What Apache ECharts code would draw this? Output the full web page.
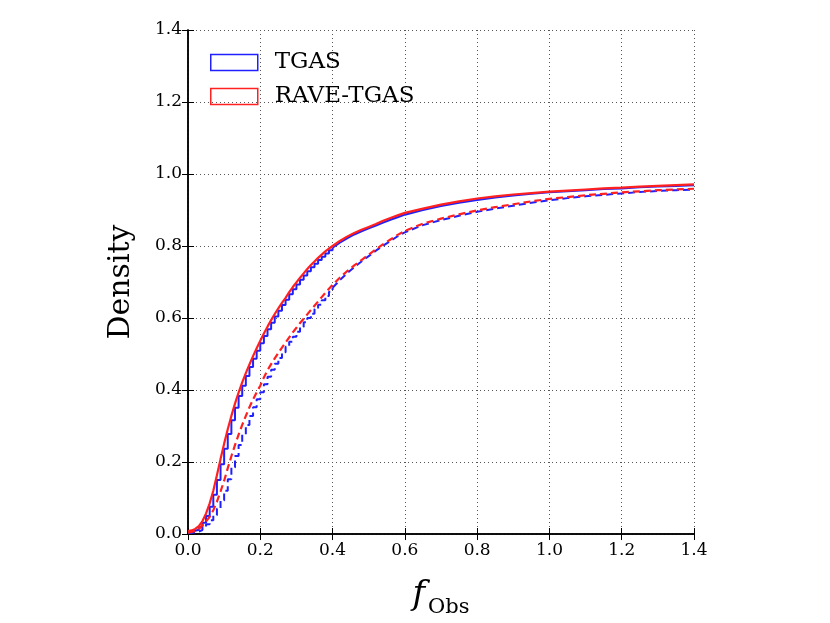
<!DOCTYPE html>
<html><head><meta charset="utf-8">
<script src="https://cdn.jsdelivr.net/npm/echarts@6/dist/echarts.min.js"></script>
<style>html,body{margin:0;padding:0;background:#fff}#c{width:830px;height:623px}</style>
</head><body><div id="c"></div>
<script>
const xs = [0,0.01,0.02,0.03,0.04,0.05,0.06,0.07,0.08,0.09,0.10,0.11,0.12,0.13,0.14,0.15,0.16,0.17,0.18,0.19,0.20,
  0.21,0.22,0.23,0.24,0.25,0.26,0.27,0.28,0.29,0.30,0.31,0.32,0.33,0.34,0.35,0.36,0.37,0.38,0.39,0.40,
  0.42,0.44,0.46,0.48,0.50,0.52,0.54,0.56,0.58,0.60,
  0.65,0.70,0.75,0.80,0.85,0.90,0.95,1.00,1.05,1.10,1.15,1.20,1.25,1.30,1.35,1.40];
const tgasSolid = [0.007,0.009,0.012,0.019,0.031,0.050,0.076,0.109,0.150,0.194,0.237,0.278,0.316,0.351,0.383,0.412,0.439,0.464,0.487,0.509,0.530,
  0.550,0.569,0.587,0.604,0.620,0.636,0.651,0.666,0.680,0.693,0.706,0.718,0.730,0.741,0.751,0.761,0.770,0.779,0.788,0.795,
  0.809,0.821,0.832,0.841,0.849,0.857,0.865,0.873,0.880,0.887,
  0.900,0.911,0.920,0.928,0.935,0.940,0.945,0.949,0.952,0.955,0.958,0.960,0.963,0.965,0.967,0.969];
const raveSolid = [0.008,0.010,0.014,0.022,0.036,0.057,0.085,0.120,0.163,0.208,0.251,0.291,0.328,0.362,0.393,0.421,0.447,0.471,0.494,0.516,0.537,
  0.557,0.576,0.594,0.611,0.627,0.642,0.656,0.672,0.686,0.699,0.712,0.724,0.736,0.747,0.757,0.767,0.776,0.785,0.793,0.800,
  0.814,0.826,0.836,0.845,0.853,0.861,0.870,0.878,0.885,0.892,
  0.904,0.915,0.924,0.932,0.938,0.943,0.947,0.951,0.954,0.957,0.960,0.962,0.965,0.967,0.969,0.971];
const tgasDashed = [0.003,0.005,0.007,0.011,0.018,0.027,0.038,0.052,0.070,0.093,0.120,0.152,0.185,0.217,0.247,0.276,0.303,0.328,0.352,0.374,0.394,
  0.416,0.437,0.456,0.473,0.489,0.505,0.520,0.534,0.548,0.562,0.575,0.588,0.600,0.612,0.625,0.637,0.649,0.661,0.673,0.684,
  0.705,0.724,0.741,0.757,0.772,0.787,0.801,0.814,0.827,0.838,
  0.858,0.872,0.884,0.895,0.904,0.912,0.920,0.927,0.933,0.938,0.942,0.946,0.950,0.953,0.955,0.957];
const raveDashed = [0.004,0.006,0.009,0.014,0.024,0.035,0.048,0.066,0.090,0.118,0.148,0.183,0.216,0.247,0.276,0.303,0.328,0.352,0.374,0.394,0.412,
  0.435,0.455,0.472,0.488,0.503,0.518,0.532,0.546,0.560,0.573,0.586,0.598,0.610,0.622,0.634,0.646,0.658,0.670,0.681,0.692,
  0.712,0.730,0.746,0.761,0.776,0.791,0.805,0.818,0.831,0.842,
  0.862,0.876,0.888,0.899,0.908,0.916,0.924,0.931,0.936,0.941,0.945,0.949,0.952,0.955,0.957,0.959];
const legendNames = ['TGAS','RAVE-TGAS'];
const BLUE = '#2020ff', RED = '#ff2020';
const STEP_END = 41; // fine 0.01 bins (x <= 0.40) are drawn as visible steps
const pairs = v => xs.map((x,i)=>[x, v[i]]);
const chart = echarts.init(document.getElementById('c'), null, {renderer:'canvas'});
const serif = 'DejaVu Serif';
const gridLine = {show:true, lineStyle:{color:'#555', type:[1,3], width:1}};
const frame = {show:true, lineStyle:{color:'#000', width:1.5}};
const tick = {show:true, inside:true, length:6, lineStyle:{color:'#000', width:1}};
const blueSeries = (vals, dashed) => {
  const p = pairs(vals);
  const ls = {color:BLUE, width:2, type: dashed ? [7,4] : 'solid'};
  return [
    {name:legendNames[0], type:'line', step:'end', data:p.slice(0, STEP_END), symbol:'none', lineStyle:ls, itemStyle:{color:BLUE}},
    {name:legendNames[0], type:'line', data:p.slice(STEP_END-1), symbol:'none', lineStyle:ls, itemStyle:{color:BLUE}}
  ];
};
chart.setOption({
  animation:false,
  backgroundColor:'#fff',
  grid:{left:188, right:136, top:30, bottom:89, containLabel:false, outerBoundsMode:'none'},
  legend:{
    left:205, top:46, orient:'vertical', itemWidth:47, itemHeight:16, itemGap:11,
    textStyle:{fontFamily:serif, fontSize:23, color:'#000', padding:[0,0,0,12]},
    data:[
      {name:legendNames[0], icon:'rect', itemStyle:{color:'rgba(0,0,0,0)', borderColor:BLUE, borderWidth:1.5}},
      {name:legendNames[1], icon:'rect', itemStyle:{color:'rgba(0,0,0,0)', borderColor:RED, borderWidth:1.5}}
    ]
  },
  xAxis:[{
    type:'value', min:0, max:1.4, interval:0.2,
    axisLine:frame, axisTick:tick, splitLine:gridLine,
    axisLabel:{formatter:v=>v.toFixed(1), fontFamily:serif, fontSize:17, color:'#000', margin:8},
    name:'{f|f}{s|Obs}', nameLocation:'middle', nameGap:44,
    nameTextStyle:{rich:{
      f:{fontFamily:serif, fontStyle:'italic', fontSize:34, color:'#000', verticalAlign:'bottom'},
      s:{fontFamily:serif, fontSize:21, color:'#000', verticalAlign:'bottom', padding:[0,0,-6,3]}
    }}
  },{
    type:'value', min:0, max:1.4, interval:0.2, position:'top',
    axisLine:frame, axisTick:tick, splitLine:{show:false}, axisLabel:{show:false}
  }],
  yAxis:[{
    type:'value', min:0, max:1.4, interval:0.2,
    axisLine:frame, axisTick:tick, splitLine:gridLine,
    axisLabel:{formatter:v=>v.toFixed(1), fontFamily:serif, fontSize:17, color:'#000', margin:6},
    name:'Density', nameLocation:'middle', nameGap:52, nameRotate:90,
    nameTextStyle:{fontFamily:serif, fontSize:30, color:'#000'}
  },{
    type:'value', min:0, max:1.4, interval:0.2, position:'right',
    axisLine:frame, axisTick:tick, splitLine:{show:false}, axisLabel:{show:false}
  }],
  series:[
    ...blueSeries(tgasSolid, false),
    {name:legendNames[1], type:'line', data:pairs(raveSolid), symbol:'none',
      lineStyle:{color:RED, width:2.2}, itemStyle:{color:RED}},
    ...blueSeries(tgasDashed, true),
    {name:legendNames[1], type:'line', data:pairs(raveDashed), symbol:'none',
      lineStyle:{color:RED, width:2.2, type:[7,4]}, itemStyle:{color:RED}}
  ]
});
</script></body></html>
